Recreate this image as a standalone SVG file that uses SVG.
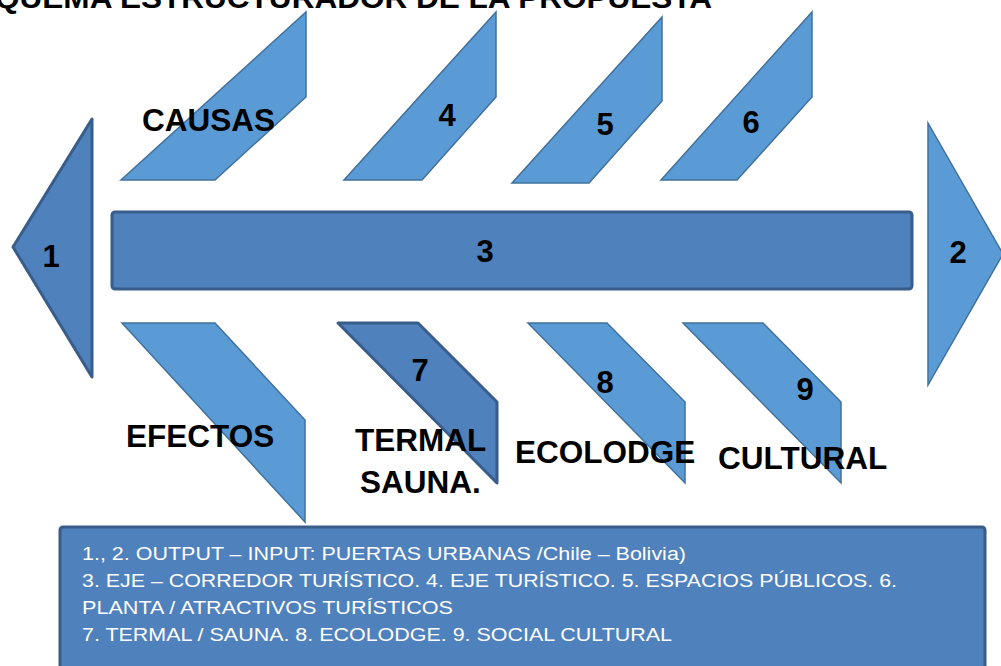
<svg xmlns="http://www.w3.org/2000/svg" width="1001" height="666" viewBox="0 0 1001 666">
<style>
.dark{fill:#4F81BD;stroke:#385D8A;stroke-width:3;stroke-linejoin:round}
.light{fill:#5B9BD5;stroke:#41719C;stroke-width:1.5;stroke-linejoin:miter}
.lbl{font-family:"Liberation Sans",Arial,sans-serif;font-weight:bold;font-size:31.5px;fill:#000}
.num{font-family:"Liberation Sans",Arial,sans-serif;font-weight:bold;font-size:31px;fill:#000;text-anchor:middle}
.note{font-family:"Liberation Sans",Arial,sans-serif;font-size:18px;fill:#fff}
</style>
<rect width="1001" height="666" fill="#fff"/>
<text class="lbl" x="-47" y="7.5" textLength="759" lengthAdjust="spacingAndGlyphs" style="font-size:30px">ESQUEMA ESTRUCTURADOR DE LA PROPUESTA</text>
<g id="connectors"></g>
<g id="n1"><polygon class="dark" points="13,247 92,119 92,377"/><text class="num" x="51" y="267">1</text></g>
<g id="n2"><polygon class="light" points="928,123 1003,254 928,385"/><text class="num" x="958" y="263">2</text></g>
<g id="n3"><rect class="dark" x="112" y="212" width="800" height="77" rx="3"/><text class="num" x="485" y="261.5">3</text></g>
<g id="causas"><polygon class="light" points="121,180 215,180 306,97 306,12"/><text class="lbl" x="142" y="131">CAUSAS</text></g>
<g id="n4"><polygon class="light" points="344,180 422,180 496,97 496,12"/><text class="num" x="447" y="126">4</text></g>
<g id="n5"><polygon class="light" points="512,183 589,183 662,101 662,17"/><text class="num" x="605" y="135">5</text></g>
<g id="n6"><polygon class="light" points="661,180 737,180 812,97 812,12"/><text class="num" x="751" y="133">6</text></g>
<g id="efectos"><polygon class="light" points="122,323 215,323 305,420 305,522"/><text class="lbl" x="126" y="447">EFECTOS</text></g>
<g id="n7"><polygon class="dark" points="338,323 418,323 497,402 497,483"/><text class="num" x="420" y="381">7</text><text class="lbl" x="355" y="451">TERMAL</text><text class="lbl" x="360" y="493">SAUNA.</text></g>
<g id="n8"><polygon class="light" points="528,323 607,323 685,402 685,483"/><text class="num" x="605" y="393">8</text><text class="lbl" x="515" y="463">ECOLODGE</text></g>
<g id="n9"><polygon class="light" points="683,323 763,323 841,402 841,483"/><text class="num" x="805" y="400">9</text><text class="lbl" x="718" y="469">CULTURAL</text></g>
<g id="note"><rect class="dark" x="60" y="527" width="925" height="150" rx="3"/>
<text class="note" x="82" y="560" textLength="604" lengthAdjust="spacingAndGlyphs">1., 2. OUTPUT – INPUT: PUERTAS URBANAS /Chile – Bolivia)</text>
<text class="note" x="82" y="587" textLength="815" lengthAdjust="spacingAndGlyphs">3. EJE – CORREDOR TURÍSTICO. 4. EJE TURÍSTICO. 5. ESPACIOS PÚBLICOS. 6.</text>
<text class="note" x="82" y="614" textLength="371" lengthAdjust="spacingAndGlyphs">PLANTA / ATRACTIVOS TURÍSTICOS</text>
<text class="note" x="82" y="641" textLength="590" lengthAdjust="spacingAndGlyphs">7. TERMAL / SAUNA. 8. ECOLODGE. 9. SOCIAL CULTURAL</text>
</g>
</svg>
